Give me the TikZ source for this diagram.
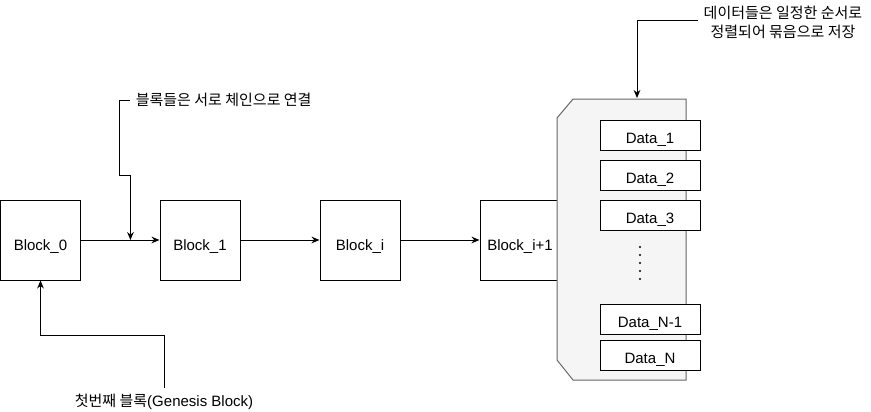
\documentclass[tikz,border=0pt]{standalone}
\usepackage{fontspec}
\setmainfont{Liberation Sans}
\newfontfamily\kr{Noto Sans CJK KR}
\usetikzlibrary{calc}
\usetikzlibrary{arrows.meta}

\begin{document}
\begin{tikzpicture}[x=0.75pt,y=-0.75pt,line width=0.75pt,
  font=\fontsize{11.25}{14.25}\selectfont,
  block/.style={draw,minimum width=60pt,minimum height=60pt,inner sep=0pt,text height=15.5pt,text depth=0pt},
  databox/.style={draw,fill=white,minimum width=75pt,minimum height=22.5pt,inner sep=0pt,text height=12pt,text depth=0pt},
  link/.style={-{Stealth[length=6pt,width=5pt]}},
  note/.style={inner sep=4pt}]

\definecolor{storefill}{HTML}{F5F5F5}
\definecolor{storeline}{HTML}{666666}

\useasboundingbox (0,0) rectangle (871,411);

% DRAW THE BLOCKS
\node[block] (b0) at (40.5,240) {Block\_0};
\node[block] (b1) at (200,240) {Block\_1};
\node[block] (bi) at (360,240) {Block\_i};
\node[block] (bn) at (520,240) {Block\_i+1};

\draw[link] (b0) -- (b1);
\draw[link] (b1) -- (bi);
\draw[link] (bi) -- (bn);

% DRAW THE DATA STORE
\coordinate (storeA) at (557,118);
\coordinate (storeB) at (573,99);
\coordinate (storeC) at (686,99);
\coordinate (storeD) at (686,380);
\coordinate (storeE) at (573,380);
\coordinate (storeF) at (557,360);
\filldraw[draw=storeline,fill=storefill] (storeA) -- (storeB) -- (storeC) -- (storeD) -- (storeE) -- (storeF) -- cycle;

\node[databox] (d1) at (650,135) {Data\_1};
\node[databox] (d2) at (650,175) {Data\_2};
\node[databox] (d3) at (650,215) {Data\_3};
\node[databox] (dm) at (650,319) {Data\_N-1};
\node[databox] (dn) at (650,355) {Data\_N};

\foreach \k in {0,...,4}
  \fill (640,{247+8*\k}) circle (1.1);

% DRAW THE NOTES
\node[note,anchor=west] (chaintext) at (130,100) {\kr 블록들은 서로 체인으로 연결};
\coordinate (linkpt) at ($(b0.east)!0.63!(b1.west)$);
\draw[link] (chaintext.west) -- ++(-11,0) |- ($(linkpt)+(0,-65)$) -- (linkpt);

\node[note] (gentext) at (164,402) {{\kr 첫번째 블록}(Genesis Block)};
\draw[link] (gentext.north) |- ($(b0.south)+(0,55)$) -- (b0.south);

\node[note,align=center] (datatext) at (783,22) {\kr 데이터들은 일정한 순서로\\\kr 정렬되어 묶음으로 저장};
\coordinate (storetop) at (637,98);
\draw[link] ($(datatext.west)+(0,-2)$) -| (storetop);

\end{tikzpicture}
\end{document}
